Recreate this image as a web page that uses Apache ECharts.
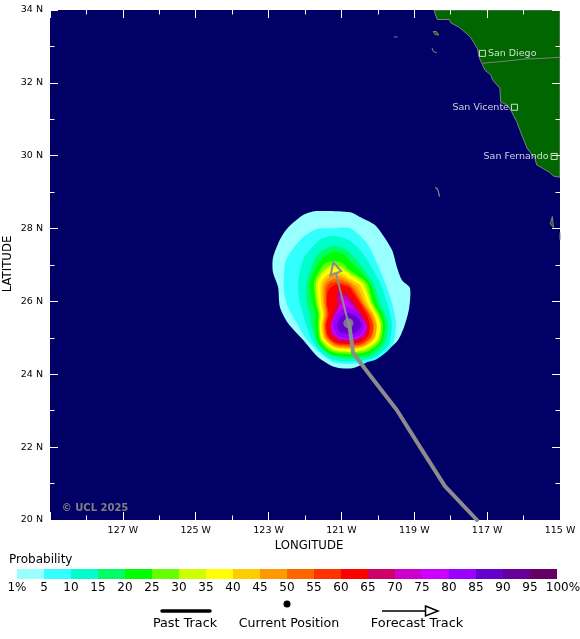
<!DOCTYPE html>
<html><head><meta charset="utf-8">
<style>html,body{margin:0;padding:0;background:#fff}#c{width:580px;height:639px}</style>
<script src="https://cdn.jsdelivr.net/npm/echarts@6/dist/echarts.min.js"></script>
</head><body><div id="c"></div>
<script>
const lonMajor=[-127,-125,-123,-121,-119,-117,-115];
const lonMajorTicks=[-129,-127,-125,-123,-121,-119,-117,-115];
const latMajor=[20,22,24,26,28,30,32,34];
const probLabels=['1%','5','10','15','20','25','30','35','40','45','50','55','60','65','70','75','80','85','90','95','100%'];
const probColors=['#99ffff','#33ffff','#00ffcc','#00ff66','#00ff00','#66ff00','#ccff00','#ffff00','#ffcc00','#ff9900','#ff6600','#ff3300','#ff0000','#cc0066','#cc00cc','#cc00ff','#9900ff','#6600cc','#660099','#660066'];

const c01=[[-121.70,28.48],[-120.76,28.45],[-120.49,28.32],[-120.08,28.10],[-119.86,27.82],[-119.61,27.41],[-119.47,26.92],[-119.34,26.59],[-119.12,26.37],[-119.14,25.82],[-119.28,25.30],[-119.47,24.91],[-119.94,24.53],[-120.68,24.17],[-121.18,24.20],[-121.64,24.47],[-122.05,24.94],[-122.47,25.41],[-122.69,25.85],[-122.74,26.40],[-122.88,26.81],[-122.88,27.19],[-122.69,27.69],[-122.47,28.02],[-122.05,28.37]];
const c05=[[-121.23,28.01],[-120.76,28.01],[-120.30,27.60],[-120.02,27.05],[-119.80,26.51],[-119.61,25.96],[-119.50,25.35],[-119.61,24.78],[-120.08,24.39],[-120.76,24.28],[-121.23,24.34],[-121.59,24.59],[-122.00,25.02],[-122.19,25.35],[-122.47,25.85],[-122.58,26.31],[-122.55,27.05],[-122.36,27.41],[-122.05,27.77],[-121.67,27.99]];
const c10=[[-121.59,27.69],[-121.23,27.80],[-120.76,27.66],[-120.38,27.27],[-119.94,26.51],[-119.75,25.96],[-119.66,25.65],[-119.61,25.35],[-119.71,24.80],[-120.16,24.43],[-120.82,24.35],[-121.31,24.43],[-121.70,24.75],[-121.97,25.35],[-122.05,25.65],[-122.14,25.96],[-122.19,26.51],[-122.03,27.19]];
const c15=[[-121.72,27.19],[-121.56,27.38],[-121.23,27.52],[-120.90,27.44],[-120.60,27.16],[-120.13,26.51],[-119.94,25.96],[-119.80,25.65],[-119.72,25.35],[-119.81,24.84],[-120.21,24.49],[-120.82,24.42],[-121.29,24.52],[-121.64,24.83],[-121.83,25.35],[-121.86,25.65],[-121.95,25.96],[-121.95,26.51]];
const c20=[[-121.64,27.05],[-121.45,27.25],[-121.23,27.36],[-120.96,27.30],[-120.76,27.11],[-120.22,26.51],[-120.02,25.96],[-119.87,25.65],[-119.80,25.35],[-119.89,24.87],[-120.26,24.55],[-120.82,24.48],[-121.32,24.55],[-121.65,24.87],[-121.72,25.35],[-121.72,25.65],[-121.81,25.96],[-121.86,26.51]];
const c25=[[-121.45,27.05],[-121.34,27.08],[-121.23,27.11],[-120.96,27.05],[-120.82,26.89],[-120.30,26.51],[-120.13,25.95],[-119.95,25.65],[-119.86,25.35],[-119.93,24.91],[-120.29,24.62],[-120.82,24.56],[-121.27,24.62],[-121.58,24.91],[-121.64,25.35],[-121.63,25.65],[-121.70,25.95],[-121.75,26.51],[-121.61,26.83]];
const c30=[[-121.23,27.00],[-120.98,26.94],[-120.82,26.81],[-120.54,26.64],[-120.35,26.45],[-120.17,25.95],[-120.00,25.65],[-119.91,25.35],[-119.98,24.94],[-120.32,24.67],[-120.82,24.61],[-121.26,24.67],[-121.55,24.94],[-121.61,25.35],[-121.60,25.65],[-121.66,25.95],[-121.70,26.51],[-121.53,26.81],[-121.37,26.94]];
const c35=[[-121.23,26.92],[-120.98,26.86],[-120.76,26.72],[-120.41,26.45],[-120.22,25.95],[-120.04,25.65],[-119.94,25.35],[-120.00,24.96],[-120.34,24.70],[-120.82,24.64],[-121.24,24.70],[-121.53,24.96],[-121.59,25.35],[-121.56,25.65],[-121.61,25.95],[-121.64,26.51],[-121.50,26.75],[-121.37,26.86]];
const c40=[[-121.23,26.81],[-120.98,26.75],[-120.76,26.61],[-120.49,26.45],[-120.28,25.95],[-120.11,25.65],[-120.02,25.35],[-120.09,24.99],[-120.38,24.75],[-120.82,24.69],[-121.22,24.75],[-121.49,24.99],[-121.55,25.35],[-121.50,25.65],[-121.56,25.95],[-121.56,26.51],[-121.45,26.67],[-121.34,26.75]];
const c45=[[-121.23,26.70],[-120.98,26.67],[-120.76,26.53],[-120.57,26.40],[-120.35,25.95],[-120.15,25.65],[-120.04,25.35],[-120.10,25.00],[-120.39,24.77],[-120.82,24.72],[-121.20,24.77],[-121.45,25.00],[-121.50,25.35],[-121.46,25.65],[-121.50,25.95],[-121.50,26.45],[-121.40,26.61]];
const c50=[[-121.23,26.61],[-120.98,26.59],[-120.76,26.48],[-120.63,26.34],[-120.41,25.95],[-120.21,25.65],[-120.11,25.35],[-120.16,25.03],[-120.43,24.81],[-120.82,24.76],[-121.18,24.81],[-121.43,25.03],[-121.48,25.35],[-121.42,25.65],[-121.46,25.95],[-121.45,26.40],[-121.37,26.53]];
const c55=[[-121.23,26.53],[-120.98,26.51],[-120.76,26.42],[-120.65,26.28],[-120.45,25.95],[-120.24,25.65],[-120.13,25.35],[-120.19,25.04],[-120.44,24.83],[-120.82,24.79],[-121.16,24.83],[-121.39,25.04],[-121.44,25.35],[-121.38,25.65],[-121.42,25.95],[-121.41,26.34],[-121.34,26.48]];
const c60=[[-121.20,26.45],[-120.98,26.45],[-120.76,26.37],[-120.68,26.23],[-120.49,25.95],[-120.31,25.65],[-120.22,25.35],[-120.26,25.06],[-120.49,24.87],[-120.82,24.83],[-121.15,24.87],[-121.37,25.06],[-121.42,25.35],[-121.35,25.65],[-121.40,25.95],[-121.37,26.28]];
const c65=[[-121.15,26.26],[-120.98,26.26],[-120.79,26.15],[-120.63,25.95],[-120.43,25.65],[-120.27,25.35],[-120.31,25.09],[-120.52,24.92],[-120.82,24.89],[-121.09,24.92],[-121.27,25.09],[-121.31,25.35],[-121.23,25.65],[-121.12,25.95]];
const c70=[[-121.07,26.15],[-120.90,26.15],[-120.74,25.98],[-120.54,25.68],[-120.31,25.35],[-120.35,25.12],[-120.54,24.97],[-120.82,24.94],[-121.07,24.97],[-121.25,25.12],[-121.29,25.35],[-121.18,25.65],[-121.04,25.95]];
const c75=[[-121.01,26.04],[-120.87,26.04],[-120.71,25.85],[-120.49,25.60],[-120.34,25.35],[-120.38,25.14],[-120.56,25.00],[-120.82,24.97],[-121.06,25.00],[-121.22,25.14],[-121.26,25.35],[-121.12,25.65],[-120.96,25.93]];
const c80=[[-120.85,25.85],[-120.54,25.68],[-120.38,25.35],[-120.49,25.08],[-120.82,24.99],[-121.12,25.08],[-121.23,25.35],[-121.12,25.65]];
const c85=[[-120.82,25.68],[-120.54,25.54],[-120.46,25.35],[-120.57,25.16],[-120.82,25.10],[-121.04,25.16],[-121.12,25.35],[-121.04,25.54]];
const contours=[c01,c05,c10,c15,c20,c25,c30,c35,c40,c45,c50,c55,c60,c65,c70,c75,c80,c85];

const land=[[-118.46,34],[-118.37,33.74],[-118.04,33.74],[-118.00,33.65],[-117.76,33.52],[-117.47,33.27],[-117.38,33.13],[-117.27,32.95],[-117.21,32.67],[-117.06,32.35],[-116.90,32.22],[-116.85,32.08],[-116.65,31.85],[-116.63,31.48],[-116.45,31.39],[-116.33,31.21],[-116.19,30.94],[-116.05,30.57],[-115.90,30.20],[-115.69,29.93],[-115.64,29.75],[-115.28,29.54],[-115.18,29.44],[-115,29.41],[-115,34]];
const islands=[
 [[-118.48,33.41],[-118.39,33.41],[-118.33,33.31],[-118.43,33.33]],
 [[-118.43,29.13],[-118.36,29.10],[-118.31,28.88],[-118.34,29.04]],
 [[-115.21,28.33],[-115.18,28.03],[-115.27,28.13]]
];
const islets=[[[-118.51,32.95],[-118.48,32.86],[-118.39,32.83]],[[-119.55,33.26],[-119.47,33.26]],[[-115,27.88],[-115,27.70]]];
const border=[[-117.11,32.54],[-116.46,32.60],[-116.01,32.65],[-115.55,32.67],[-115,32.70]];

const cityNames=['San Diego','San Vicente','San Fernando'];
const cityLons=[-117.13,-116.25,-115.16];
const cityLats=[32.81,31.33,29.98];

const pastTrack=[[-117.28,20],[-118.16,20.93],[-118.84,22.00],[-119.48,23.02],[-120.27,24.04],[-120.68,24.59],[-120.79,25.41]];
const currentPos=[-120.81,25.40];
const forecastLine=[[-120.81,25.40],[-121.15,26.77]];
const arrowHead=[[-121.22,27.07],[-121.01,26.83],[-121.30,26.71]];

const polySeries=(rings,fill,stroke,lw,smooth)=>({type:'custom',xAxisIndex:0,yAxisIndex:0,silent:true,animation:false,clip:true,
 data:rings.map((r,i)=>[r[0][0],r[0][1],i]),
 renderItem:(p,api)=>{const i=api.value(2);return{type:'polygon',shape:{points:rings[i].map(q=>api.coord(q)),smooth:smooth||0},
  style:{fill:typeof fill==='function'?fill(i):fill,stroke:stroke,lineWidth:lw}};}});
const lineSeries=(pts,color,w)=>({type:'line',xAxisIndex:0,yAxisIndex:0,data:pts,showSymbol:false,silent:true,animation:false,
 lineStyle:{color:color,width:w,cap:'round',join:'round'}});

const F='"DejaVu Sans"';
const xBase=(o)=>Object.assign({type:'value',min:-129,max:-115,interval:1,gridIndex:0,z:5,splitLine:{show:false},axisLine:{show:false},axisLabel:{show:false}},o);
const yBase=(o)=>Object.assign({type:'value',min:20,max:34,interval:1,gridIndex:0,z:5,splitLine:{show:false},axisLine:{show:false},axisLabel:{show:false}},o);
const tick=(len,vals)=>{const t={show:true,inside:true,length:len,lineStyle:{color:'#fff',width:1}};if(vals)t.customValues=vals;return t;};

const option={
 animation:false,backgroundColor:'#fff',
 grid:[{left:50,top:10,width:510,height:510,show:true,backgroundColor:'#000066',borderWidth:0,outerBoundsMode:'none'},
       {left:17,top:569,width:540,height:10,show:false,outerBoundsMode:'none'}],
 xAxis:[
  xBase({position:'bottom',axisTick:tick(4.5),axisLabel:{show:true,customValues:lonMajor,formatter:v=>Math.abs(v)+' W',color:'#000',fontFamily:F,fontSize:9.5,margin:6,hideOverlap:false}}),
  xBase({position:'bottom',axisTick:tick(8,lonMajorTicks)}),
  xBase({position:'top',axisTick:tick(4.5)}),
  xBase({position:'top',axisTick:tick(8,lonMajorTicks)}),
  {type:'value',gridIndex:1,min:0,max:20,interval:1,splitLine:{show:false},axisLine:{show:false},axisTick:{show:false},
   axisLabel:{show:true,formatter:v=>v===20?'{last|'+probLabels[v]+'}':probLabels[v],rich:{last:{padding:[0,0,0,12],fontFamily:F,fontSize:12,color:'#000'}},color:'#000',fontFamily:F,fontSize:12,margin:3,hideOverlap:false,showMinLabel:true,showMaxLabel:true}}
 ],
 yAxis:[
  yBase({position:'left',axisTick:tick(4.5),axisLabel:{show:true,customValues:latMajor,formatter:v=>v+' N',color:'#000',fontFamily:F,fontSize:9.5,margin:7,hideOverlap:false}}),
  yBase({position:'left',axisTick:tick(8,latMajor)}),
  yBase({position:'right',axisTick:tick(4.5)}),
  yBase({position:'right',axisTick:tick(8,latMajor)}),
  {type:'value',gridIndex:1,min:0,max:1,show:false}
 ],
 series:[
  polySeries([land].concat(islands),'#006600','#808080',1),
  lineSeries(border,'#808080',1),
  ...islets.map(s=>lineSeries(s,'#808080',1)),
  polySeries(contours,i=>probColors[i],null,0,0.25),
  lineSeries(pastTrack,'#8c8c8c',4),
  lineSeries(forecastLine,'#8c8c8c',2),
  polySeries([arrowHead],'rgba(0,0,0,0)','#8c8c8c',2),
  {type:'scatter',xAxisIndex:0,yAxisIndex:0,silent:true,animation:false,symbol:'circle',symbolSize:10,itemStyle:{color:'#8c8c8c'},data:[currentPos]},
  {type:'scatter',xAxisIndex:0,yAxisIndex:0,silent:true,animation:false,symbol:'rect',symbolSize:6,
   itemStyle:{color:'rgba(0,0,0,0)',borderColor:'#fff',borderWidth:1},
   data:cityNames.map((n,i)=>({name:n,value:[cityLons[i],cityLats[i]],
     label:{show:true,formatter:n,position:i===0?'right':'left',distance:2,color:'#fff',fontFamily:F,fontSize:9.5}}))},
  {type:'custom',xAxisIndex:4,yAxisIndex:4,silent:true,animation:false,clip:false,
   data:probColors.map((c,i)=>[i,0,i+1,1]),
   renderItem:(p,api)=>{const a=api.coord([api.value(0),1]),b=api.coord([api.value(2),0]);
    return{type:'rect',shape:{x:a[0],y:a[1],width:b[0]-a[0],height:b[1]-a[1]},style:{fill:probColors[api.value(0)]}};}}
 ],
 graphic:[
  {type:'text',x:95,y:508,z:20,style:{text:'© UCL 2025',fill:'#7f7f7f',font:'bold 10px '+F,align:'center',verticalAlign:'middle'}},
  {type:'text',x:309,y:546,style:{text:'LONGITUDE',fill:'#000',font:'11.7px '+F,align:'center',verticalAlign:'middle'}},
  {type:'text',x:8,y:264,rotation:Math.PI/2,style:{text:'LATITUDE',fill:'#000',font:'11.7px '+F,align:'center',verticalAlign:'middle'}},
  {type:'text',x:9,y:560,style:{text:'Probability',fill:'#000',font:'12px '+F,align:'left',verticalAlign:'middle'}},
  {type:'text',x:185,y:624,style:{text:'Past Track',fill:'#000',font:'12.8px '+F,align:'center',verticalAlign:'middle'}},
  {type:'text',x:289,y:624,style:{text:'Current Position',fill:'#000',font:'12.6px '+F,align:'center',verticalAlign:'middle'}},
  {type:'text',x:417,y:624,style:{text:'Forecast Track',fill:'#000',font:'12.9px '+F,align:'center',verticalAlign:'middle'}},
  {type:'line',shape:{x1:162,y1:611,x2:210,y2:611},style:{stroke:'#000',lineWidth:3.5,lineCap:'round'}},
  {type:'circle',shape:{cx:287,cy:604,r:3.5},style:{fill:'#000'}},
  {type:'line',shape:{x1:382,y1:611,x2:426,y2:611},style:{stroke:'#000',lineWidth:1.5}},
  {type:'polygon',shape:{points:[[425.5,606],[438,611],[425.5,616]]},style:{fill:'none',stroke:'#000',lineWidth:1.5}}
 ]
};
echarts.init(document.getElementById('c'),null,{renderer:'canvas'}).setOption(option);
</script></body></html>
